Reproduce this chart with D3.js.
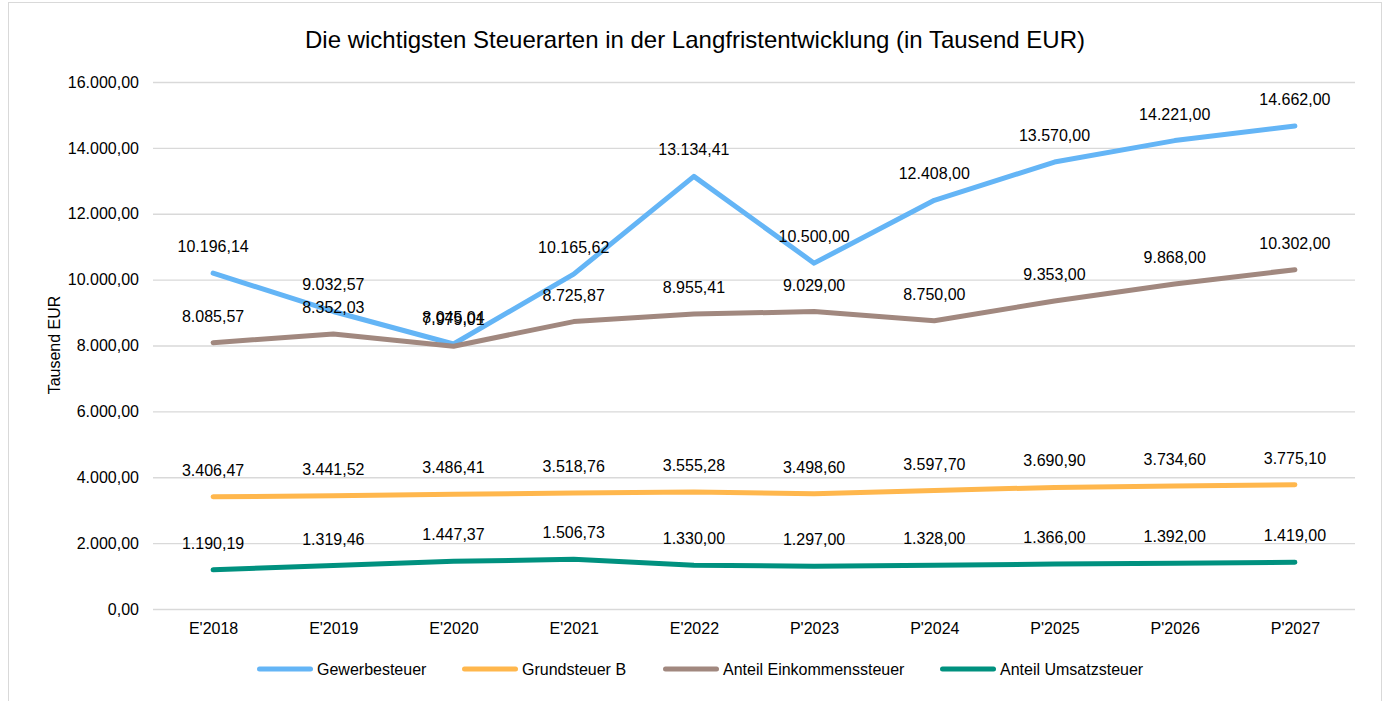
<!DOCTYPE html>
<html><head><meta charset="utf-8">
<script src="https://cdn.jsdelivr.net/npm/d3@7"></script>
<style>body{margin:0;background:#fff}svg{display:block;font-family:"Liberation Sans",Arial,sans-serif}</style>
</head><body><svg id="c" width="1388" height="701"></svg>
<script>
const categories = ["E'2018","E'2019","E'2020","E'2021","E'2022","P'2023","P'2024","P'2025","P'2026","P'2027"];
const gewerbesteuer = [10196.14, 9032.57, 8045.04, 10165.62, 13134.41, 10500.00, 12408.00, 13570.00, 14221.00, 14662.00];
const grundsteuerB = [3406.47, 3441.52, 3486.41, 3518.76, 3555.28, 3498.60, 3597.70, 3690.90, 3734.60, 3775.10];
const einkommensteuer = [8085.57, 8352.03, 7979.01, 8725.87, 8955.41, 9029.00, 8750.00, 9353.00, 9868.00, 10302.00];
const umsatzsteuer = [1190.19, 1319.46, 1447.37, 1506.73, 1330.00, 1297.00, 1328.00, 1366.00, 1392.00, 1419.00];
const yTicks = [0, 2000, 4000, 6000, 8000, 10000, 12000, 14000, 16000];
const seriesNames = ["Gewerbesteuer", "Grundsteuer B", "Anteil Einkommenssteuer", "Anteil Umsatzsteuer"];
const seriesColors = ["#64b5f6", "#ffb74d", "#a1887f", "#00917f"];
const seriesValues = [gewerbesteuer, grundsteuerB, einkommensteuer, umsatzsteuer];

const fmt = v => {
  const s = v.toFixed(2).split(".");
  return s[0].replace(/\B(?=(\d{3})+(?!\d))/g, ".") + "," + s[1];
};

const FS = 16;
const svg = d3.select("#c");
svg.append("rect").attr("x", 8.5).attr("y", 2.5).attr("width", 1373).attr("height", 710)
  .attr("fill", "#fff").attr("stroke", "#d9d9d9");

const L = 153, R = 1355, T = 82, B = 609;
const x = d3.scalePoint().domain(categories).range([L, R]).padding(0.5);
const y = d3.scaleLinear().domain([0, 16000]).range([B, T]);

svg.append("text").attr("x", 695).attr("y", 48).attr("text-anchor", "middle")
  .attr("font-size", 24).attr("fill", "#000")
  .text("Die wichtigsten Steuerarten in der Langfristentwicklung (in Tausend EUR)");

const yAxis = svg.append("g").attr("transform", `translate(${L},0)`)
  .call(d3.axisLeft(y).tickValues(yTicks).tickSize(-(R - L)).tickFormat(fmt).tickPadding(14));
yAxis.select(".domain").remove();
yAxis.selectAll(".tick line").attr("stroke", "#d9d9d9").attr("stroke-width", 1.3);
yAxis.selectAll(".tick text").attr("font-size", FS).attr("fill", "#000")
  .attr("font-family", "Liberation Sans, Arial, sans-serif");

const xAxis = svg.append("g").attr("transform", `translate(0,${B})`)
  .call(d3.axisBottom(x).tickSize(0).tickPadding(14));
xAxis.select(".domain").remove();
xAxis.selectAll(".tick text").attr("font-size", FS).attr("fill", "#000")
  .attr("font-family", "Liberation Sans, Arial, sans-serif");

svg.append("text").attr("transform", "translate(60,345) rotate(-90)")
  .attr("text-anchor", "middle").attr("font-size", FS).attr("fill", "#000").text("Tausend EUR");

const line = d3.line().x((d, i) => x(categories[i])).y(d => y(d));
seriesValues.forEach((vals, k) => {
  svg.append("path").datum(vals).attr("d", line).attr("fill", "none")
    .attr("stroke", seriesColors[k]).attr("stroke-width", 5)
    .attr("stroke-linejoin", "round").attr("stroke-linecap", "round");
});
seriesValues.forEach((vals, k) => {
  svg.append("g").selectAll("text").data(vals).join("text")
    .attr("x", (d, i) => x(categories[i]))
    .attr("y", d => y(d) - 21)
    .attr("text-anchor", "middle").attr("font-size", FS).attr("fill", "#000")
    .text(d => fmt(d));
});

const legendX = [257, 462, 663, 940];
const lg = svg.append("g");
seriesNames.forEach((n, k) => {
  lg.append("line").attr("x1", legendX[k] + 2.5).attr("x2", legendX[k] + 53.5).attr("y1", 669).attr("y2", 669)
    .attr("stroke", seriesColors[k]).attr("stroke-width", 5).attr("stroke-linecap", "round");
  lg.append("text").attr("x", legendX[k] + 60).attr("y", 675).attr("font-size", FS).attr("fill", "#000").text(n);
});
</script></body></html>
